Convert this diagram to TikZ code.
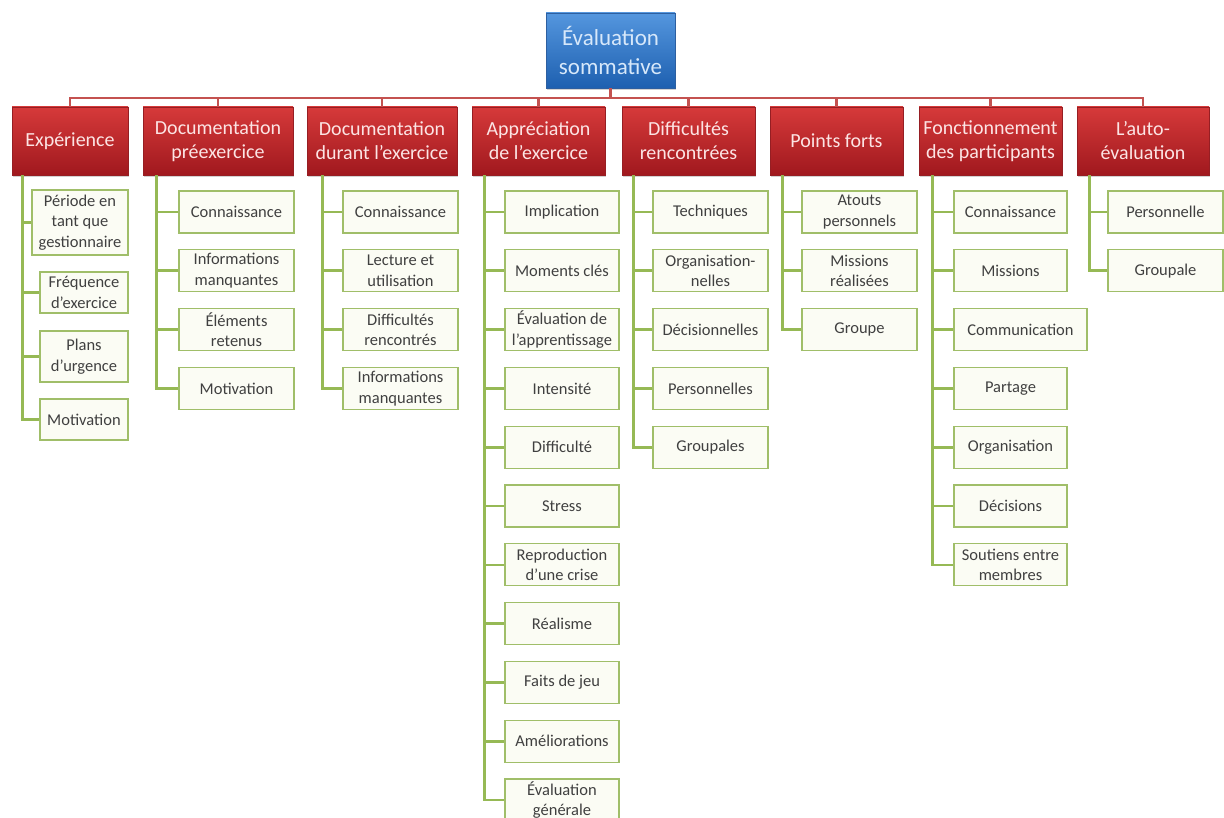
\documentclass[tikz,border=0pt]{standalone}
\usepackage{fontspec}
\setmainfont{Carlito}
\usetikzlibrary{shadows}
\definecolor{blueTop}{RGB}{84,150,222}
\definecolor{blueBot}{RGB}{30,96,176}
\definecolor{blueBorder}{RGB}{45,95,160}
\definecolor{blueText}{RGB}{215,232,250}
\definecolor{hdrTop}{RGB}{214,58,58}
\definecolor{hdrBot}{RGB}{160,24,30}
\definecolor{hdrBorder}{RGB}{150,30,35}
\definecolor{hdrText}{RGB}{252,228,228}
\definecolor{leafFill}{RGB}{251,252,244}
\definecolor{leafBorder}{RGB}{160,190,105}
\definecolor{leafText}{RGB}{64,64,64}
\definecolor{busCol}{RGB}{196,82,80}
\definecolor{greenCol}{RGB}{150,185,85}
\begin{document}
\begin{tikzpicture}[x=1pt,y=-1pt,
  topbox/.style={rectangle, draw=blueBorder, line width=0.8, top color=blueTop, bottom color=blueBot,
    text=blueText, minimum width=129, minimum height=75, align=center, inner sep=0,
    font=\fontsize{23}{29}\selectfont, drop shadow={shadow xshift=1pt, shadow yshift=-2pt, opacity=0.35}},
  hdr/.style={rectangle, draw=hdrBorder, line width=0.5, top color=hdrTop, bottom color=hdrBot,
    text=hdrText, minimum height=68, align=center, inner sep=0,
    font=\fontsize{20}{24}\selectfont, drop shadow={shadow xshift=1pt, shadow yshift=-2pt, opacity=0.35}},
  leaf/.style={rectangle, draw=leafBorder, fill=leafFill, line width=1.3, text=leafText,
    minimum height=42, minimum width=115, align=center, inner sep=0,
    font=\fontsize{16.5}{20.5}\selectfont},
  bus/.style={draw=busCol, line width=2.6},
  gl/.style={draw=greenCol, line width=2.6}]
\useasboundingbox (0,0) rectangle (1224,818);
\fill[white] (0,0) rectangle (1224,818);

% top
\node[topbox] (top) at (610.5,50.5) {Évaluation\\sommative};

% headers
\node[hdr, minimum width=116] (h1) at (70,141) {Expérience};
\node[hdr, minimum width=150] (h2) at (218,141) {Documentation\\préexercice};
\node[hdr, minimum width=150] (h3) at (382,141) {Documentation\\durant l’exercice};
\node[hdr, minimum width=133] (h4) at (538.5,141) {Appréciation\\de l’exercice};
\node[hdr, minimum width=133] (h5) at (688.5,141) {Difficultés\\rencontrées};
\node[hdr, minimum width=133] (h6) at (836.5,141) {Points forts};
\node[hdr, minimum width=143] (h7) at (990.5,141) {Fonctionnement\\des participants};
\node[hdr, minimum width=132] (h8) at (1143,141) {L’auto-\\évaluation};

% bus connectors
\foreach \h in {h1,h2,h3,h4,h5,h6,h7,h8}
  \draw[bus] (top.south) -- ++(0,9.5) -| (\h.north);

% column 1
\node[leaf, minimum width=96, minimum height=65] (c1a) at (80,222.5) {Période en\\tant que\\gestionnaire};
\node[leaf, minimum width=88, minimum height=41] (c1b) at (84,292.5) {Fréquence\\d’exercice};
\node[leaf, minimum width=88, minimum height=51] (c1c) at (84,356.5) {Plans\\d’urgence};
\node[leaf, minimum width=88, minimum height=41] (c1d) at (84,419.5) {Motivation};

% column 2
\node[leaf] (c2a) at (236.5,212) {Connaissance};
\node[leaf] (c2b) at (236.5,270.8) {Informations\\manquantes};
\node[leaf] (c2c) at (236.5,329.6) {Éléments\\retenus};
\node[leaf] (c2d) at (236.5,388.4) {Motivation};

% column 3
\node[leaf] (c3a) at (400.5,212) {Connaissance};
\node[leaf] (c3b) at (400.5,270.8) {Lecture et\\utilisation};
\node[leaf] (c3c) at (400.5,329.6) {Difficultés\\rencontrés};
\node[leaf] (c3d) at (400.5,388.4) {Informations\\manquantes};

% column 4
\node[leaf, minimum width=114] (c4a) at (562,212) {Implication};
\node[leaf, minimum width=114] (c4b) at (562,270.8) {Moments clés};
\node[leaf, minimum width=114] (c4c) at (562,329.6) {Évaluation de\\l’apprentissage};
\node[leaf, minimum width=114] (c4d) at (562,388.4) {Intensité};
\node[leaf, minimum width=114] (c4e) at (562,447.2) {Difficulté};
\node[leaf, minimum width=114] (c4f) at (562,506) {Stress};
\node[leaf, minimum width=114] (c4g) at (562,564.8) {Reproduction\\d’une crise};
\node[leaf, minimum width=114] (c4h) at (562,623.6) {Réalisme};
\node[leaf, minimum width=114] (c4i) at (562,682.4) {Faits de jeu};
\node[leaf, minimum width=114] (c4j) at (562,741.2) {Améliorations};
\node[leaf, minimum width=114] (c4k) at (562,800) {Évaluation\\générale};

% column 5
\node[leaf] (c5a) at (710.5,212) {Techniques};
\node[leaf] (c5b) at (710.5,270.8) {Organisation-\\nelles};
\node[leaf] (c5c) at (710.5,329.6) {Décisionnelles};
\node[leaf] (c5d) at (710.5,388.4) {Personnelles};
\node[leaf] (c5e) at (710.5,447.2) {Groupales};

% column 6
\node[leaf] (c6a) at (859.5,212) {Atouts\\personnels};
\node[leaf] (c6b) at (859.5,270.8) {Missions\\réalisées};
\node[leaf] (c6c) at (859.5,329.6) {Groupe};

% column 7
\node[leaf, minimum width=113] (c7a) at (1010.5,212) {Connaissance};
\node[leaf, minimum width=113] (c7b) at (1010.5,270.8) {Missions};
\node[leaf, minimum width=133] (c7c) at (1020.5,329.6) {Communication};
\node[leaf, minimum width=113] (c7d) at (1010.5,388.4) {Partage};
\node[leaf, minimum width=113] (c7e) at (1010.5,447.2) {Organisation};
\node[leaf, minimum width=113] (c7f) at (1010.5,506) {Décisions};
\node[leaf, minimum width=113] (c7g) at (1010.5,564.8) {Soutiens entre\\membres};

% column 8
\node[leaf] (c8a) at (1165.5,212) {Personnelle};
\node[leaf] (c8b) at (1165.5,270.8) {Groupale};

% green connectors
\foreach \c in {c1a,c1b,c1c,c1d}
  \draw[gl] ([xshift=11pt]h1.south west) |- (\c.west);
\foreach \c in {c2a,c2b,c2c,c2d}
  \draw[gl] ([xshift=14pt]h2.south west) |- (\c.west);
\foreach \c in {c3a,c3b,c3c,c3d}
  \draw[gl] ([xshift=16pt]h3.south west) |- (\c.west);
\foreach \c in {c4a,c4b,c4c,c4d,c4e,c4f,c4g,c4h,c4i,c4j,c4k}
  \draw[gl] ([xshift=13pt]h4.south west) |- (\c.west);
\foreach \c in {c5a,c5b,c5c,c5d,c5e}
  \draw[gl] ([xshift=12pt]h5.south west) |- (\c.west);
\foreach \c in {c6a,c6b,c6c}
  \draw[gl] ([xshift=13pt]h6.south west) |- (\c.west);
\foreach \c in {c7a,c7b,c7c,c7d,c7e,c7f,c7g}
  \draw[gl] ([xshift=14pt]h7.south west) |- (\c.west);
\foreach \c in {c8a,c8b}
  \draw[gl] ([xshift=13pt]h8.south west) |- (\c.west);
\end{tikzpicture}
\end{document}
